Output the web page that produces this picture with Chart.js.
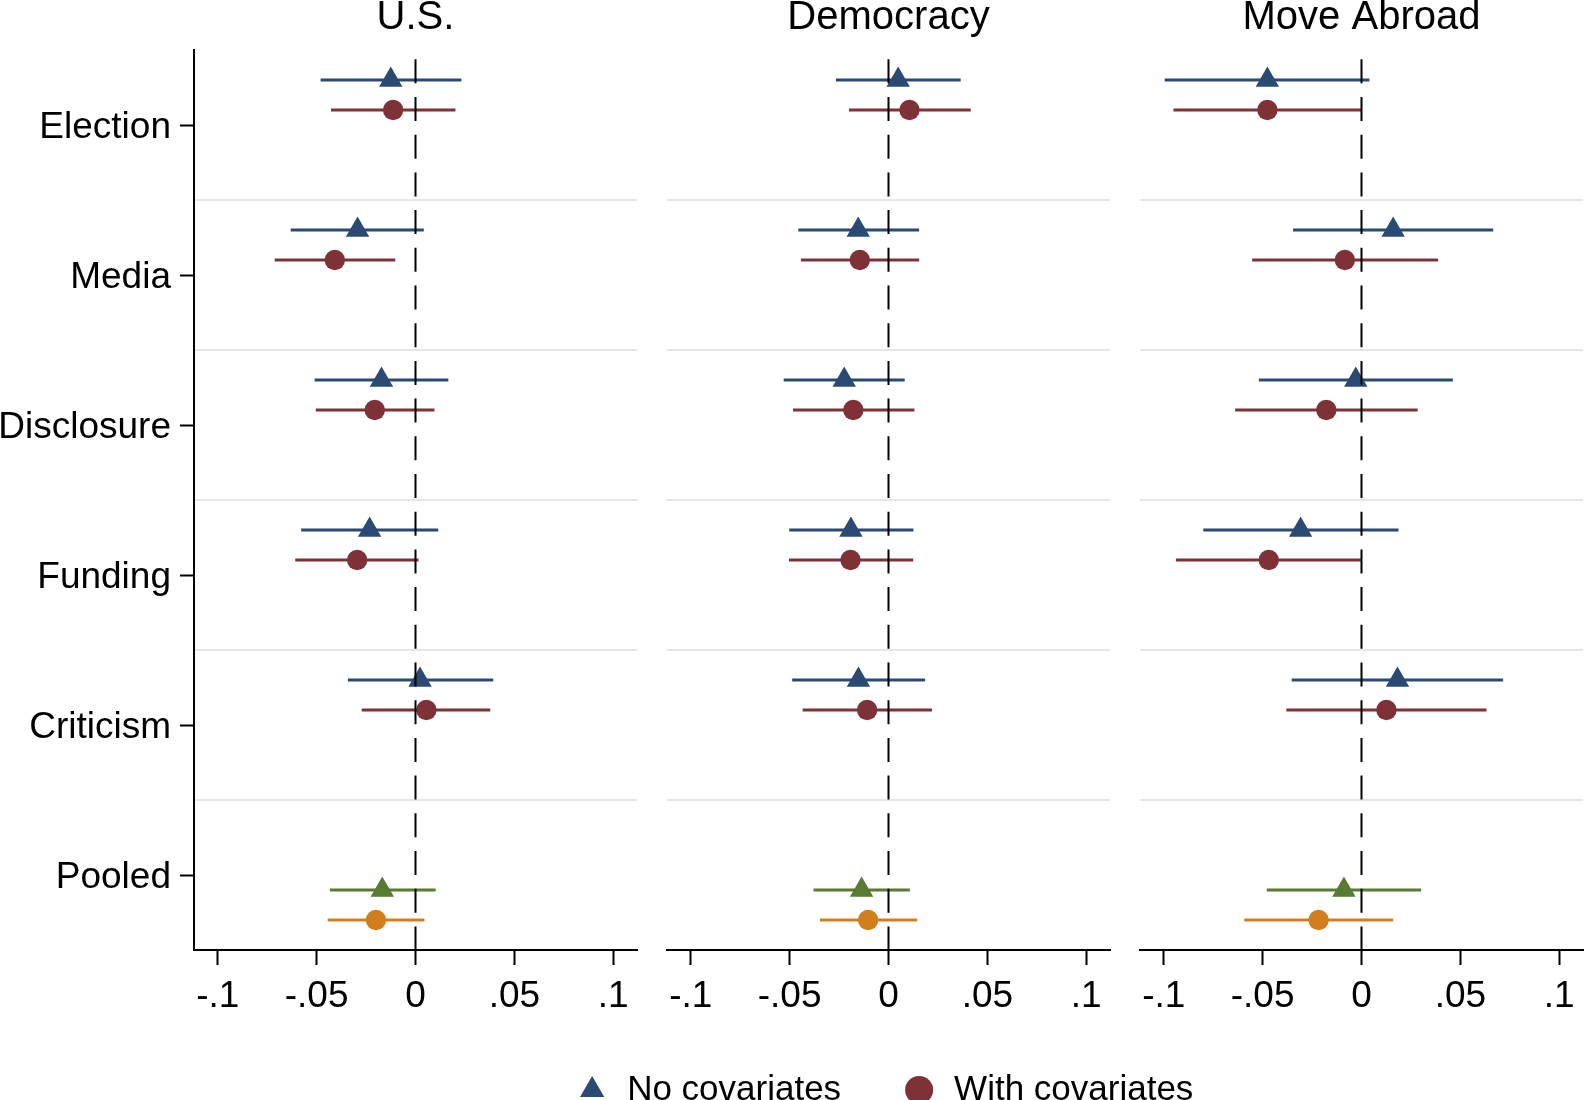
<!DOCTYPE html>
<html><head><meta charset="utf-8">
<script src="https://cdn.jsdelivr.net/npm/chart.js@4.4.1/dist/chart.umd.min.js"></script>
<style>
html,body{margin:0;padding:0;overflow:hidden;background:#fff;width:1585px;height:1100px;}
canvas{position:absolute;left:0;top:0;}
</style></head><body>
<canvas id="c0" width="1600" height="1118"></canvas>
<canvas id="c1" width="1600" height="1118"></canvas>
<canvas id="c2" width="1600" height="1118"></canvas>
<script>
// ---------- data ----------
const categories = ['Election','Media','Disclosure','Funding','Criticism','Pooled'];
const panelTitles = ['U.S.','Democracy','Move Abroad'];
const tickValues = [-0.1,-0.05,0,0.05,0.1];
const tickLabels = ['-.1','-.05','0','.05','.1'];
const seriesNames = ['No covariates','With covariates'];

// U.S.
const usNoCovEst = [-0.0125,-0.0293,-0.0172,-0.0232, 0.0023,-0.0168];
const usNoCovLo  = [-0.0480,-0.0631,-0.0510,-0.0578,-0.0342,-0.0433];
const usNoCovHi  = [ 0.0232, 0.0042, 0.0166, 0.0115, 0.0393, 0.0102];
const usCovEst   = [-0.0113,-0.0408,-0.0206,-0.0295, 0.0055,-0.0200];
const usCovLo    = [-0.0427,-0.0712,-0.0504,-0.0608,-0.0272,-0.0444];
const usCovHi    = [ 0.0202,-0.0102, 0.0096, 0.0015, 0.0378, 0.0045];
// Democracy
const demNoCovEst = [ 0.0049,-0.0153,-0.0224,-0.0190,-0.0152,-0.0136];
const demNoCovLo  = [-0.0266,-0.0456,-0.0530,-0.0502,-0.0487,-0.0379];
const demNoCovHi  = [ 0.0365, 0.0155, 0.0082, 0.0126, 0.0185, 0.0108];
const demCovEst   = [ 0.0106,-0.0145,-0.0178,-0.0192,-0.0108,-0.0103];
const demCovLo    = [-0.0200,-0.0443,-0.0483,-0.0503,-0.0434,-0.0347];
const demCovHi    = [ 0.0416, 0.0155, 0.0131, 0.0125, 0.0220, 0.0145];
// Move Abroad
const movNoCovEst = [-0.0476, 0.0160,-0.0029,-0.0308, 0.0182,-0.0089];
const movNoCovLo  = [-0.0995,-0.0346,-0.0519,-0.0800,-0.0353,-0.0479];
const movNoCovHi  = [ 0.0040, 0.0666, 0.0462, 0.0187, 0.0716, 0.0301];
const movCovEst   = [-0.0476,-0.0084,-0.0178,-0.0469, 0.0126,-0.0217];
const movCovLo    = [-0.0951,-0.0553,-0.0639,-0.0938,-0.0380,-0.0593];
const movCovHi    = [ 0.0000, 0.0387, 0.0284, 0.0000, 0.0632, 0.0160];

// ---------- style / layout ----------
const FONT = '"Liberation Sans", Arial, sans-serif';
const COLORS = {navy:'#2b4a73', maroon:'#7e3238', green:'#587a31', orange:'#d17f1c'};
const W = 1600, H = 1118, XAXIS_H = 62, TOP_H = 50, AREA_BOTTOM = 950, XMIN = -0.112, XMAX = 0.112;
const LEGEND_H = 105.5;
Chart.defaults.font.family = FONT;
Chart.defaults.color = '#000';

const lastRow = categories.length - 1;
function rowOffset(row, s){ return row === lastRow ? (s === 0 ? 0.1 : 0.3) : (s === 0 ? -0.3 : -0.1); }
function seriesColor(row, s){ return row === lastRow ? (s === 0 ? COLORS.green : COLORS.orange) : (s === 0 ? COLORS.navy : COLORS.maroon); }

// plot areas: U.S. [194,637], Democracy [667,1110], Move Abroad [1140,1583]
const panels = [
  {est:[usNoCovEst, usCovEst],   lo:[usNoCovLo, usCovLo],   hi:[usNoCovHi, usCovHi],   padL:0,    padR:W-637,  yW:194, rW:0,   yAxis:true,  legend:false},
  {est:[demNoCovEst, demCovEst], lo:[demNoCovLo, demCovLo], hi:[demNoCovHi, demCovHi], padL:509,  padR:W-1259, yW:158, rW:149, yAxis:false, legend:true},
  {est:[movNoCovEst, movCovEst], lo:[movNoCovLo, movCovLo], hi:[movNoCovHi, movCovHi], padL:1140, padR:W-1583, yW:0,   rW:0,   yAxis:false, legend:false}
];

panels.forEach((p, pi) => {
  const datasets = [];
  // zero reference line
  datasets.push({
    type:'scatter', showLine:true, data:[{x:0,y:-0.5},{x:0,y:lastRow+0.5}],
    borderColor:'#000', borderWidth:2, borderDash:[24,13.7], borderDashOffset:28.4,
    pointRadius:0, order:0
  });
  // markers
  [0,1].forEach(s => {
    datasets.push({
      type:'scatter', label:seriesNames[s], inLegend:p.legend,
      data:categories.map((c,i) => ({x:p.est[s][i], y:i + rowOffset(i,s)})),
      pointStyle: s === 0 ? 'triangle' : 'circle',
      pointRadius: s === 0 ? 13.5 : 10.2,
      pointBorderWidth:0,
      backgroundColor: ctx => seriesColor(ctx.dataIndex, s),
      pointBackgroundColor: ctx => seriesColor(ctx.dataIndex, s),
      borderColor: ctx => seriesColor(ctx.dataIndex, s),
      order:1
    });
  });
  // confidence intervals
  categories.forEach((c,i) => {
    [0,1].forEach(s => {
      const yy = i + rowOffset(i,s);
      datasets.push({
        type:'scatter', showLine:true,
        data:[{x:p.lo[s][i], y:yy},{x:p.hi[s][i], y:yy}],
        borderColor:seriesColor(i,s), borderWidth:3, pointRadius:0, order:2
      });
    });
  });

  const padB = p.legend ? H - AREA_BOTTOM - XAXIS_H - LEGEND_H : H - AREA_BOTTOM - XAXIS_H;

  new Chart(document.getElementById('c'+pi), {
    type:'scatter',
    data:{datasets},
    options:{
      responsive:false, animation:false, devicePixelRatio:1, events:[],
      layout:{padding:{left:p.padL, right:p.padR, top:0, bottom:padB}},
      plugins:{
        tooltip:{enabled:false},
        title:{display:false},
        legend:{
          display:p.legend, position:'bottom', align:'center',
          labels:{
            usePointStyle:true, boxWidth:35, boxHeight:19.8, padding:60.5, color:'#000',
            font:{size:35, family:FONT},
            filter:(item, data) => !!data.datasets[item.datasetIndex].inLegend
          }
        }
      },
      scales:{
        x:{
          type:'linear', position:'bottom', min:XMIN, max:XMAX,
          afterBuildTicks: sc => { sc.ticks = tickValues.map(v => ({value:v})); },
          afterFit: sc => { sc.height = XAXIS_H; },
          ticks:{ callback:(v,i) => tickLabels[i], font:{size:37, family:FONT}, color:'#000',
                  padding:9.5, maxRotation:0, autoSkip:false },
          grid:{ drawOnChartArea:false, drawTicks:true, tickLength:15, tickWidth:2, tickColor:'#000' },
          border:{ display:true, color:'#000', width:2 }
        },
        xTop:{
          type:'linear', position:'top', min:XMIN, max:XMAX,
          afterFit: sc => { sc.height = TOP_H; },
          ticks:{ display:false },
          grid:{ display:false, drawTicks:false },
          border:{ display:false },
          title:{ display:true, text:panelTitles[pi], color:'#000',
                  font:{size:40, family:FONT, weight:'normal', lineHeight:0.875},
                  padding:{top:0, bottom:0} }
        },
        y:{
          type:'linear', position:'left', min:-0.5, max:lastRow+0.5, reverse:true,
          afterBuildTicks: sc => { sc.ticks = categories.map((c,i) => ({value:i})); },
          afterFit: sc => { sc.width = p.yW; },
          ticks:{ display:p.yAxis, callback:(v,i) => categories[i], font:{size:37, family:FONT}, color:'#000',
                  padding:9, labelOffset:3, autoSkip:false },
          grid:{ display:p.yAxis, drawOnChartArea:false, drawTicks:p.yAxis, tickLength:14, tickWidth:2, tickColor:'#000' },
          border:{ display:p.yAxis, color:'#000', width:2 }
        },
        ySep:{
          type:'linear', position:'right', min:-0.5, max:lastRow+0.5, reverse:true,
          afterBuildTicks: sc => { sc.ticks = categories.slice(1).map((c,i) => ({value:i+0.5})); },
          afterFit: sc => { sc.width = p.rW; },
          ticks:{ display:false },
          grid:{ drawOnChartArea:true, drawTicks:false, color:'#e6e6e6', lineWidth:2 },
          border:{ display:false }
        }
      }
    }
  });
});
</script>
</body></html>
